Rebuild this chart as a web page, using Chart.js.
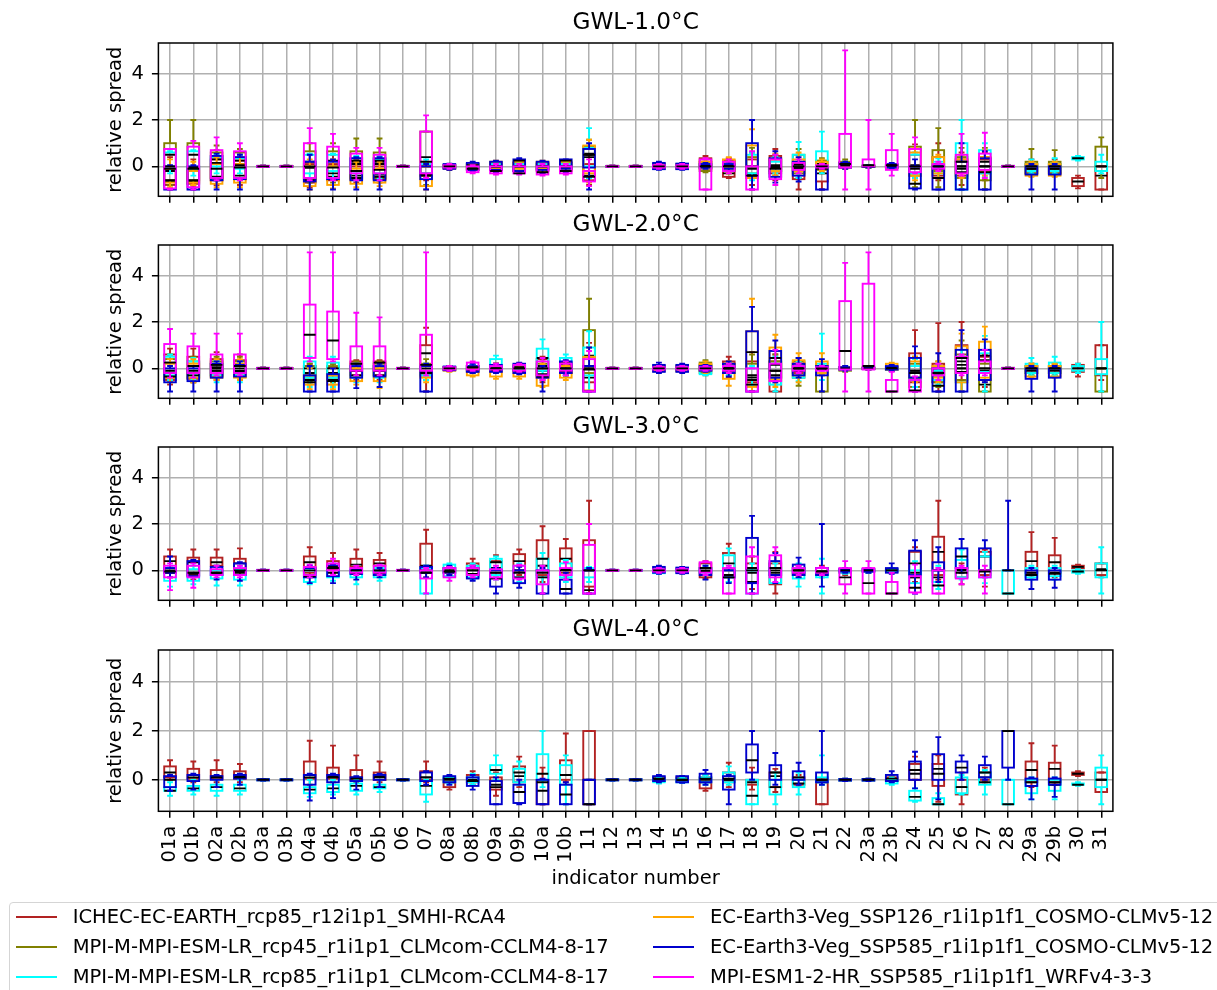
<!DOCTYPE html>
<html>
<head>
<meta charset="utf-8">
<title>GWL relative spread</title>
<script src="https://cdn.jsdelivr.net/npm/chart.js@4.4.1/dist/chart.umd.min.js"></script>
<style>
  body { margin: 0; background: #fff; width: 1217px; height: 990px; overflow: hidden; position: relative; font-family: "DejaVu Sans", sans-serif; }
  canvas { position: absolute; left: 0; }
  #legendFrame { position: absolute; left: 9.3px; top: 901.7px; width: 1240px; height: 120px; border: 1px solid #d5d5d5; border-radius: 4px; box-sizing: border-box; }
  .lg-line { position: absolute; height: 2px; }
  .lg-text { position: absolute; font-size: 19.5px; line-height: 24px; color: #000; white-space: nowrap; }
</style>
</head>
<body>
<canvas id="c0" width="1217" height="216" style="top:0px"></canvas>
<canvas id="c1" width="1217" height="216" style="top:202px"></canvas>
<canvas id="c2" width="1217" height="216" style="top:404px"></canvas>
<canvas id="c3" width="1217" height="294" style="top:607px"></canvas>
<div id="legendFrame"></div>
<div id="legend"></div>
<script>
const FONT = "DejaVu Sans";

const indicators = ["01a","01b","02a","02b","03a","03b","04a","04b","05a","05b","06","07","08a","08b","09a","09b","10a","10b","11","12",
  "13","14","15","16","17","18","19","20","21","22","23a","23b","24","25","26","27","28","29a","29b","30","31"];
const models = [
  "ICHEC-EC-EARTH_rcp85_r12i1p1_SMHI-RCA4",
  "MPI-M-MPI-ESM-LR_rcp45_r1i1p1_CLMcom-CCLM4-8-17",
  "MPI-M-MPI-ESM-LR_rcp85_r1i1p1_CLMcom-CCLM4-8-17",
  "EC-Earth3-Veg_SSP126_r1i1p1f1_COSMO-CLMv5-12",
  "EC-Earth3-Veg_SSP585_r1i1p1f1_COSMO-CLMv5-12",
  "MPI-ESM1-2-HR_SSP585_r1i1p1f1_WRFv4-3-3"
];
const colors = ["#b22222", "#808000", "#00ffff", "#ffa500", "#0000cd", "#ff00ff"];
const gwlTitles = ["GWL-1.0°C", "GWL-2.0°C", "GWL-3.0°C", "GWL-4.0°C"];
const yTicks = [0, 2, 4];

// each box: [whisker low, q1, median, q3, whisker high], null = no box
const flat = [-0.03, -0.02, 0, 0.02, 0.03];

// ---- GWL 1.0
const g1Red = [
  [-0.95,-0.8,-0.65,-0.1,0.4], [-0.9,-0.75,-0.65,-0.1,0.3], [-0.8,-0.6,-0.45,0.3,0.7], [-0.8,-0.55,-0.4,0.25,0.6], flat,
  flat, [-0.9,-0.7,-0.5,0.1,0.5], [-0.8,-0.6,-0.45,0.1,0.5], [-0.7,-0.55,-0.4,0.0,0.3], [-0.7,-0.55,-0.35,0.0,0.3],
  flat, [-0.6,-0.4,-0.3,0.0,0.2], [-0.15,-0.1,0,0.05,0.1], [-0.2,-0.15,-0.05,0.1,0.15], [-0.25,-0.15,-0.05,0.1,0.2],
  [-0.3,-0.2,-0.05,0.15,0.25], [-0.3,-0.2,-0.1,0.1,0.2], [-0.3,-0.2,-0.05,0.15,0.25], [-0.8,-0.6,-0.4,0.1,0.5], flat,
  flat, [-0.12,-0.1,0,0.1,0.12], [-0.12,-0.1,0,0.1,0.12], [-0.2,-0.1,0.1,0.35,0.45], [-0.5,-0.45,-0.3,0.25,0.35],
  [-0.8,-0.5,-0.35,0.3,0.6], [-0.6,-0.3,0.05,0.45,0.75], [-1,-0.55,-0.1,0.2,0.5], [-1,-0.65,-0.3,0.0,0.2], [-0.1,-0.05,0.05,0.15,0.2],
  [-0.05,-0.02,0,0.03,0.05], [-0.1,-0.05,0,0.05,0.1], [-0.5,-0.3,0.0,0.5,0.95], [-0.6,-0.4,0.0,0.4,1.0], [-0.8,-0.4,-0.1,0.3,0.6],
  [-0.6,-0.3,0.0,0.3,0.6], flat, [-0.4,-0.3,-0.1,0.1,0.3], [-0.4,-0.3,-0.1,0.1,0.3], [-0.95,-0.85,-0.65,-0.5,-0.4],
  [-1,-1,-0.4,0.0,0.0]
];
const g1Olive = [
  [-0.8,-0.6,-0.2,1.0,2.0], [-0.8,-0.6,-0.2,1.0,2.0], [-0.6,-0.5,0.1,0.6,0.9], [-0.6,-0.5,0.1,0.6,0.75], flat,
  flat, [-0.7,-0.55,-0.05,0.65,1.0], [-0.7,-0.5,0.0,0.65,1.0], [-0.6,-0.5,0.2,0.65,1.2], [-0.6,-0.5,0.2,0.6,1.2],
  flat, [-0.8,-0.4,0.4,1.5,1.5], [-0.1,-0.05,0,0.05,0.1], [-0.15,-0.1,0,0.1,0.15], [-0.2,-0.1,0.0,0.15,0.2],
  [-0.2,-0.1,0.0,0.15,0.25], [-0.2,-0.1,0.0,0.15,0.2], [-0.2,-0.1,0.0,0.15,0.25], [-0.5,-0.2,0.5,0.85,1.15], flat,
  flat, [-0.1,-0.08,0,0.08,0.1], [-0.1,-0.08,0,0.08,0.1], [-0.25,-0.2,0.0,0.2,0.3], [-0.3,-0.2,-0.15,0.2,0.3],
  [-0.5,-0.3,-0.1,0.4,0.8], [-0.4,-0.2,0.0,0.3,0.5], [-0.5,-0.3,0.0,0.5,0.75], [-0.3,-0.15,0.1,0.25,0.35], [-0.1,0.0,0.1,0.2,0.3],
  [-0.05,-0.02,0,0.03,0.05], [-0.1,-0.05,0,0.05,0.1], [-0.9,-0.4,0.05,0.85,2.0], [-0.9,-0.2,0.1,0.7,1.65], [-1,-0.5,0.0,0.4,0.8],
  [-1,-0.6,-0.2,0.4,0.8], flat, [-0.4,-0.3,0.0,0.2,0.75], [-0.4,-0.3,0.0,0.2,0.7], null,
  [-0.5,-0.2,0.0,0.85,1.25]
];
const g1Cyan = [
  [-0.3,0.0,0.5,0.6,0.65], [-0.4,-0.1,0.5,0.65,0.7], [-0.3,0.0,0.3,0.4,0.5], [-0.3,-0.1,0.25,0.35,0.5], flat,
  flat, [-0.6,-0.3,0.2,0.5,0.55], [-0.5,-0.2,0.25,0.5,0.55], [-0.5,-0.3,0.1,0.35,0.45], [-0.5,-0.3,0.1,0.3,0.45],
  flat, [-0.5,-0.3,0.0,0.1,0.3], [-0.1,-0.05,0,0.05,0.1], [-0.15,-0.1,0,0.1,0.15], [-0.2,-0.1,0.0,0.1,0.15],
  [-0.2,-0.1,0.0,0.1,0.2], [-0.2,-0.1,0.0,0.1,0.15], [-0.2,-0.1,0.0,0.1,0.2], [-0.5,0.0,0.55,0.8,1.65], flat,
  flat, [-0.12,-0.1,-0.05,0.05,0.1], [-0.1,-0.08,0,0.08,0.1], [-0.1,-0.05,0,0.1,0.2], [-0.2,-0.1,0,0.1,0.2],
  [-0.6,-0.3,0.0,0.5,0.6], [-0.3,-0.2,-0.05,0.2,0.4], [-0.5,-0.2,0.1,0.5,1.05], [-0.3,-0.1,0.1,0.65,1.5], [-0.1,0,0.1,0.15,0.2],
  [-0.05,-0.02,0,0.03,0.05], [-0.1,-0.05,0,0.05,0.1], [-0.5,-0.3,0.0,0.5,0.6], [-0.5,-0.3,-0.1,0.2,0.35], [-1,-1,0.0,1.0,2.0],
  [-0.45,-0.3,0.2,0.7,1.0], flat, [-0.3,-0.2,0.0,0.1,0.3], [-0.3,-0.2,0.0,0.1,0.35], [0.25,0.3,0.35,0.4,0.45],
  [-0.3,-0.2,0.0,0.2,0.5]
];
const g1Orange = [
  [-0.9,-0.7,-0.6,-0.1,0.3], [-0.8,-0.7,-0.6,-0.2,0.2], [-0.9,-0.75,-0.5,0.1,0.4], [-0.9,-0.7,-0.5,0.1,0.4], flat,
  flat, [-1,-0.85,-0.6,0.0,0.3], [-0.95,-0.8,-0.55,0.0,0.3], [-0.9,-0.75,-0.5,-0.1,0.2], [-0.85,-0.7,-0.45,-0.1,0.2],
  flat, [-1,-0.85,-0.4,0.0,0.1], [-0.1,-0.05,0,0.05,0.1], [-0.15,-0.1,0,0.1,0.15], [-0.2,-0.1,0.0,0.2,0.25],
  [-0.2,-0.1,0.0,0.2,0.25], [-0.2,-0.1,0.0,0.2,0.25], [-0.2,-0.1,0.0,0.2,0.25], [-0.7,-0.3,0.4,0.9,1.15], flat,
  flat, [-0.1,-0.08,0,0.08,0.1], [-0.1,-0.08,0,0.08,0.1], [-0.1,-0.05,0.05,0.2,0.3], [-0.3,-0.1,0.05,0.3,0.4],
  [-1,-0.5,0.0,0.9,1.6], [-0.4,-0.2,0.0,0.3,0.55], [-0.3,-0.2,0.0,0.3,0.6], [-0.2,-0.1,0.0,0.2,0.3], [-0.1,0,0.05,0.15,0.2],
  [-0.05,-0.02,0,0.03,0.05], [-0.1,-0.05,0,0.05,0.1], [-0.6,-0.4,-0.1,0.6,0.8], [-0.5,-0.3,0.0,0.4,0.5], [-0.5,-0.3,0.0,0.3,0.5],
  [-0.4,-0.2,0.0,0.4,0.7], flat, [-0.45,-0.4,-0.1,0.1,0.2], [-0.45,-0.4,-0.1,0.1,0.2], null,
  null
];
const g1Blue = [
  [-1,-1,0.0,0.0,0.05], [-1,-1,-0.05,0.0,0.05], [-1,-0.6,0.15,0.45,0.55], [-1,-0.55,0.05,0.4,0.5], flat,
  flat, [-1,-0.65,-0.05,0.2,0.5], [-1,-0.55,-0.3,0.2,0.3], [-1,-0.6,0.25,0.35,0.4], [-1,-0.6,0.25,0.35,0.4],
  flat, [-1,-0.55,-0.35,0.0,0.1], [-0.15,-0.1,0.0,0.1,0.12], [-0.2,-0.15,0.05,0.15,0.2], [-0.25,-0.15,0.0,0.2,0.25],
  [-0.3,-0.2,0.25,0.3,0.35], [-0.3,-0.15,0.0,0.2,0.25], [-0.25,-0.1,0.25,0.3,0.3], [-1,-0.05,0.5,0.75,1.0], flat,
  flat, [-0.15,-0.12,0,0.15,0.2], [-0.15,-0.12,0,0.12,0.15], [-0.1,-0.05,0.0,0.1,0.15], [-0.2,-0.1,0.0,0.1,0.2],
  [-1,-0.4,-0.4,1.0,2.0], [-0.7,-0.45,-0.05,0.35,0.65], [-0.65,-0.4,-0.05,0.2,0.4], [-1,-1,-0.1,0.0,0.1], [-0.1,-0.05,0.05,0.15,0.2],
  [-0.05,-0.02,0,0.03,0.05], [-0.1,-0.05,0.05,0.1,0.15], [-1,-0.95,-0.75,0.0,0.3], [-1,-1,-0.5,0.0,0.1], [-1,-1,-0.25,0.2,1.0],
  [-1,-1,-0.25,0.35,0.65], flat, [-1,-0.35,0.0,0.0,0.1], [-1,-0.35,0.0,0.0,0.1], null,
  null
];
const g1Magenta = [
  [-1,-0.95,-0.1,0.75,0.75], [-1,-0.9,-0.1,0.85,1.1], [-0.6,-0.5,-0.1,0.7,1.25], [-0.6,-0.5,-0.05,0.65,1.0], flat,
  flat, [-0.6,-0.5,0.0,1.0,1.65], [-0.6,-0.5,-0.05,0.85,1.4], [-0.6,-0.3,-0.2,0.55,0.8], [-0.6,-0.3,-0.15,0.5,0.8],
  flat, [-0.5,-0.3,0.2,1.5,2.2], [-0.1,-0.05,0,0.05,0.1], [-0.3,-0.25,-0.1,0.0,0.05], [-0.35,-0.3,-0.2,0.0,0.1],
  [-0.35,-0.3,-0.3,0.0,0.1], [-0.4,-0.35,-0.25,0.0,0.1], [-0.35,-0.3,-0.2,0.0,0.1], [-0.85,-0.65,-0.45,-0.2,0.3], flat,
  flat, [-0.1,-0.05,0,0.05,0.1], [-0.1,-0.05,0,0.05,0.1], [-1,-1,0.0,0.3,0.35], [-0.3,-0.2,0.0,0.2,0.3],
  [-1,-1,-0.4,0.0,0.65], [-0.8,-0.55,-0.1,0.3,0.5], [-0.3,-0.15,0.0,0.15,0.3], [-0.1,-0.05,0.0,0.05,0.1], [-1,-0.05,0.1,1.4,5.0],
  [-1,0.0,0.05,0.3,2.0], [-0.4,-0.15,0.05,0.7,1.4], [-0.3,-0.25,0.0,0.75,1.25], [-0.2,-0.1,0.0,0.1,0.2], [-0.4,-0.3,0.2,0.5,1.4],
  [-0.5,-0.15,0.0,0.55,1.45], flat, null, null, null,
  null
];

// ---- GWL 2.0
const g2Red = [
  [-0.7,-0.5,-0.2,0.6,0.85], [-0.6,-0.45,0.1,0.5,0.85], [-0.5,-0.35,0.15,0.4,0.7], [-0.5,-0.35,0.1,0.35,0.6], flat,
  flat, [-0.7,-0.5,-0.3,0.1,0.2], [-0.7,-0.5,-0.3,0.05,0.2], [-0.5,-0.3,0.2,0.3,0.35], [-0.5,-0.3,0.25,0.3,0.35],
  flat, [-1,-0.3,0.65,1.0,1.75], [-0.1,-0.05,0,0.05,0.1], [-0.2,-0.15,0,0.1,0.15], [-0.2,-0.1,0.0,0.1,0.2],
  [-0.2,-0.1,0.0,0.1,0.2], [-0.6,-0.4,0.1,0.4,0.5], [-0.3,-0.2,0.0,0.25,0.3], [-1,-0.6,-0.4,0.5,1.1], flat,
  flat, [-0.15,-0.1,0,0.1,0.15], [-0.15,-0.1,0,0.1,0.15], [-0.2,-0.1,0.0,0.15,0.25], [-0.4,-0.2,0.0,0.3,0.5],
  [-1,-0.6,-0.3,0.3,0.7], [-1,-1,-0.3,0.3,0.6], [-0.3,-0.2,0,0.2,0.3], [-0.3,-0.2,0,0.1,0.2], [-0.1,-0.05,0,0.05,0.1],
  [-0.05,-0.02,0,0.03,0.05], [-0.1,-0.05,0,0.05,0.1], [-1,-0.6,-0.1,0.65,1.65], [-1,-0.6,-0.1,0.2,1.95], [-0.5,-0.2,0.3,1.0,2.0],
  [-0.8,-0.5,-0.1,0.5,0.8], flat, [-0.3,-0.2,0,0.1,0.2], [-0.3,-0.2,0,0.1,0.2], [-0.35,-0.15,0,0.15,0.2],
  [-0.5,-0.3,0.0,1.0,1.0]
];
const g2Olive = [
  [-0.6,-0.4,-0.1,0.4,0.6], [-0.6,-0.4,-0.1,0.3,0.5], [-0.4,-0.3,0.0,0.3,0.5], [-0.4,-0.3,0.0,0.3,0.5], flat,
  flat, [-0.6,-0.4,-0.2,0.1,0.2], [-0.6,-0.4,-0.2,0.1,0.2], [-0.4,-0.3,0.0,0.2,0.3], [-0.4,-0.3,0.0,0.2,0.3],
  flat, [-0.5,-0.3,0.0,0.2,0.4], [-0.1,-0.05,0,0.05,0.1], [-0.2,-0.1,0,0.1,0.15], [-0.2,-0.1,0,0.1,0.2],
  [-0.2,-0.1,0,0.1,0.2], [-0.5,-0.3,-0.1,0.2,0.3], [-0.3,-0.2,0,0.2,0.3], [-1,-0.2,0.55,1.65,3.0], flat,
  flat, [-0.12,-0.1,0,0.1,0.12], [-0.12,-0.1,0,0.1,0.12], [-0.3,-0.2,0.0,0.25,0.35], [-0.3,-0.2,0.0,0.2,0.3],
  [-1,-0.7,-0.4,0.2,0.6], [-0.7,-0.4,-0.1,0.3,0.6], [-0.75,-0.4,-0.1,0.3,0.45], [-1,-1,-0.05,0.0,0.1], [-0.15,-0.1,-0.05,0.05,0.1],
  [-0.05,-0.02,0,0.03,0.05], [-0.1,-0.05,0,0.05,0.1], [-1,-0.8,-0.4,0.2,0.5], [-0.8,-0.6,-0.3,0.0,0.3], [-1,-0.5,0.0,0.6,1.2],
  [-1,-1,-0.7,0.2,0.6], flat, [-0.3,-0.2,0,0.1,0.2], [-0.3,-0.2,0,0.1,0.2], null,
  [-1,-1,0.0,0.0,0.0]
];
const g2Cyan = [
  [-0.5,-0.3,0.25,0.5,0.6], [-0.5,-0.3,0.1,0.3,0.45], [-0.6,-0.3,-0.1,0.2,0.3], [-0.6,-0.3,-0.15,0.15,0.3], flat,
  flat, [-0.8,-0.4,0.0,0.3,0.5], [-0.8,-0.4,0.0,0.25,0.5], [-0.6,-0.4,-0.1,0.1,0.2], [-0.6,-0.4,-0.1,0.1,0.2],
  flat, [-0.5,-0.3,-0.1,0.1,0.2], [-0.1,-0.05,0,0.05,0.1], [-0.2,-0.1,0,0.1,0.15], [-0.2,-0.1,0.15,0.4,0.55],
  [-0.2,-0.1,0.05,0.15,0.2], [-0.3,-0.1,0.45,0.85,1.25], [-0.3,-0.1,0.15,0.45,0.6], [-1,-0.3,0.1,0.9,1.6], flat,
  flat, [-0.12,-0.1,0,0.1,0.12], [-0.12,-0.1,0,0.1,0.12], [-0.3,-0.25,0,0.1,0.2], [-0.3,-0.2,0,0.1,0.2],
  [-1,-0.5,-0.3,0.0,0.1], [-1,-0.7,-0.3,0.2,0.5], [-0.55,-0.4,-0.1,0.1,0.3], [-0.5,-0.2,0.0,0.2,1.5], [-0.1,-0.05,0,0.05,0.1],
  [-0.05,-0.02,0,0.03,0.05], [-0.1,-0.05,0,0.05,0.1], [-0.8,-0.5,-0.2,0.1,0.4], [-0.7,-0.5,-0.3,-0.1,0.1], [-1,-0.6,0.0,0.5,0.8],
  [-1,-0.15,0.35,0.65,1.4], flat, [-0.3,-0.2,0.0,0.2,0.45], [-0.3,-0.2,0.0,0.25,0.5], [-0.2,-0.1,0,0.1,0.2],
  [-1,-0.25,0.0,0.4,2.0]
];
const g2Orange = [
  [-0.6,-0.4,-0.2,0.2,0.4], [-0.6,-0.4,-0.2,0.2,0.4], [-0.5,-0.4,-0.1,0.2,0.4], [-0.5,-0.4,-0.1,0.2,0.4], flat,
  flat, [-0.9,-0.7,-0.5,-0.3,0.0], [-0.9,-0.7,-0.5,-0.3,0.0], [-0.7,-0.55,-0.3,0.0,0.2], [-0.85,-0.55,-0.3,0.0,0.2],
  flat, [-0.6,-0.4,-0.2,0.1,0.2], [-0.15,-0.1,-0.05,0.05,0.1], [-0.35,-0.3,-0.1,0.0,0.1], [-0.45,-0.35,-0.1,0.1,0.2],
  [-0.45,-0.35,-0.15,0.05,0.15], [-0.8,-0.75,-0.25,0.0,0.2], [-0.5,-0.4,-0.1,0.1,0.2], [-1,-0.95,0.0,0.5,0.9], flat,
  flat, [-0.12,-0.1,0,0.1,0.15], [-0.15,-0.12,0,0.12,0.15], [-0.2,-0.1,0.05,0.2,0.3], [-0.75,-0.45,-0.1,0.2,0.3],
  [-1,-0.8,-0.5,1.6,3.0], [-0.8,-0.5,0.15,0.9,1.45], [-0.6,-0.3,0.0,0.35,0.65], [-0.3,-0.2,0.0,0.3,0.65], [-0.1,-0.05,0,0.05,0.1],
  [-0.05,-0.02,0,0.03,0.05], [-0.1,-0.05,0.05,0.2,0.25], [-0.6,-0.4,-0.1,0.3,0.5], [-0.6,-0.4,-0.2,0.1,0.3], [-1,-0.6,0.15,0.95,1.5],
  [-0.6,-0.4,0.55,1.15,1.8], flat, [-0.4,-0.35,-0.1,0.1,0.2], [-0.4,-0.35,-0.1,0.1,0.2], null,
  null
];
const g2Blue = [
  [-1,-0.6,-0.35,0.0,0.1], [-1,-0.55,-0.3,0.0,0.1], [-1,-0.4,0.05,0.2,0.3], [-1,-0.35,-0.2,0.15,0.3], flat,
  flat, [-1,-1,-0.6,-0.3,0.1], [-1,-1,-0.55,-0.25,0.0], [-0.85,-0.4,-0.1,0.1,0.2], [-0.8,-0.35,-0.1,0.1,0.2],
  flat, [-1,-1,-0.2,0.1,0.2], [-0.1,-0.08,0,0.08,0.1], [-0.2,-0.15,-0.05,0.1,0.2], [-0.2,-0.15,0.0,0.15,0.2],
  [-0.25,-0.2,0.05,0.2,0.25], [-1,-0.4,-0.35,0.0,0.1], [-0.3,-0.2,-0.1,0.3,0.35], [-1,-1,0.0,0.1,0.9], flat,
  flat, [-0.2,-0.15,0.0,0.15,0.25], [-0.2,-0.15,0.0,0.15,0.2], [-0.15,-0.1,0,0.1,0.15], [-0.35,-0.2,0.0,0.2,0.3],
  [-1,-1,0.7,1.6,2.65], [-0.6,-0.4,0.45,0.75,1.2], [-0.4,-0.3,0.0,0.2,0.45], [-1,-0.3,0.0,0.1,0.4], [-0.1,-0.05,0,0.05,0.1],
  [-0.05,-0.02,0,0.03,0.05], [-0.1,-0.05,0,0.1,0.15], [-1,-0.4,-0.2,0.45,0.95], [-1,-1,-0.75,0.0,0.65], [-1,-1,-0.15,0.8,1.65],
  [-0.6,-0.5,0.0,0.8,1.25], flat, [-1,-0.45,0.0,0.0,0.1], [-1,-0.4,0.0,0.0,0.1], null,
  null
];
const g2Magenta = [
  [-0.4,-0.2,0.25,1.05,1.7], [-0.4,-0.2,0.1,0.95,1.5], [-0.3,-0.2,0.15,0.6,1.5], [-0.3,-0.2,0.1,0.6,1.5], flat,
  flat, [0.3,0.45,1.45,2.75,5.0], [0.3,0.4,1.2,2.45,5.0], [-0.3,-0.1,0.2,0.95,2.4], [-0.3,-0.1,0.25,0.95,2.2],
  flat, [-0.3,-0.1,0.15,1.45,5.0], [-0.1,-0.05,0,0.05,0.1], [-0.1,-0.05,0.05,0.25,0.3], [-0.1,-0.05,0.0,0.1,0.2],
  [-0.15,-0.1,0.0,0.15,0.2], [-0.5,-0.3,0.0,0.3,0.45], [-0.3,-0.1,0.0,0.2,0.3], [-1,-1,-0.05,0.4,0.75], flat,
  flat, [-0.1,-0.05,0,0.05,0.1], [-0.1,-0.05,0,0.05,0.1], [-0.1,-0.05,0,0.05,0.1], [-0.2,-0.1,0.0,0.1,0.2],
  [-1,-1,-0.7,0.0,0.0], [-0.55,-0.55,-0.1,0.2,0.8], [-0.2,-0.1,0,0.1,0.2], [-0.1,-0.1,0.0,0.05,0.1], [-1,-0.05,0.75,2.9,4.55],
  [-1,-0.05,0.1,3.65,5.0], [-1,-1,-1,-0.5,-0.15], [-1,-1,-0.95,-0.5,-0.35], [-0.5,-0.3,-0.2,0.0,0.2], [-0.3,-0.2,0.45,0.5,0.6],
  [-0.3,-0.2,0.0,0.3,0.8], flat, null, null, null,
  null
];

// ---- GWL 3.0
const g3Red = [
  [-0.3,-0.1,0.4,0.6,0.9], [-0.4,-0.2,0.35,0.55,0.9], [0.0,0.2,0.35,0.55,0.9], [-0.2,0.0,0.3,0.5,0.95], flat,
  flat, [-0.3,-0.1,0.35,0.6,1.0], [-0.1,0.05,0.2,0.4,0.75], [0.0,0.15,0.25,0.5,0.9], [0.1,0.2,0.3,0.45,0.75],
  flat, [-0.3,-0.1,0.2,1.15,1.75], [-0.2,-0.1,0.0,0.1,0.15], [-0.3,-0.2,0.1,0.3,0.5], [-0.3,-0.1,0.1,0.4,0.65],
  [-0.2,0.0,0.4,0.7,0.9], [-0.5,-0.2,0.2,1.3,1.9], [-0.3,-0.1,0.5,0.95,1.35], [-1,-0.7,0.0,1.3,3.0], flat,
  flat, [-0.1,-0.08,0,0.08,0.1], [-0.1,-0.08,0,0.08,0.1], [-0.35,-0.3,-0.2,0.3,0.4], [-0.5,-0.3,0.0,0.75,1.15],
  [-0.8,-0.5,-0.1,0.3,0.6], [-1,-0.6,-0.1,0.3,0.8], [-0.3,-0.2,0.0,0.1,0.2], [-0.3,-0.2,-0.05,0.1,0.2], [-0.2,-0.1,0.0,0.05,0.1],
  [-0.1,-0.05,0,0.05,0.1], [-0.1,-0.05,0,0.05,0.1], [-0.5,-0.3,-0.1,0.8,1.0], [-0.4,-0.2,0.8,1.45,3.0], [-0.6,-0.3,0.0,0.1,0.3],
  [-0.7,-0.2,0.6,0.8,0.9], null, [-0.3,-0.1,0.4,0.8,1.65], [-0.3,-0.1,0.35,0.65,1.4], [0.05,0.1,0.15,0.2,0.25],
  [-0.3,-0.2,0.05,0.3,0.3]
];
const g3Cyan = [
  [-0.7,-0.45,-0.1,0.1,0.2], [-0.6,-0.45,-0.15,0.05,0.2], [-0.65,-0.35,-0.15,0.0,0.15], [-0.65,-0.4,-0.1,0.05,0.2], flat,
  flat, [-0.6,-0.5,-0.2,0.0,0.2], [-0.45,-0.3,-0.1,0.1,0.3], [-0.6,-0.3,-0.15,0.0,0.1], [-0.45,-0.3,-0.1,0.1,0.2],
  flat, [-1,-1,-0.1,0.1,0.2], [-0.3,-0.25,0.0,0.25,0.3], [-0.4,-0.3,0.0,0.2,0.3], [-0.4,-0.2,0.35,0.5,0.6],
  [-0.5,-0.3,0.0,0.2,0.3], [-0.6,-0.3,0.5,0.5,0.75], [-0.5,-0.3,0.05,0.3,0.45], [-0.5,-0.3,0.0,0.1,0.15], flat,
  flat, [-0.15,-0.12,-0.05,0.05,0.1], [-0.12,-0.1,0,0.08,0.1], [-0.2,-0.1,0.0,0.1,0.2], [-0.5,-0.3,0.3,0.65,0.95],
  [-1,-1,-0.5,0.0,0.3], [-0.55,-0.55,-0.2,0.1,0.3], [-0.7,-0.35,-0.1,0.1,0.3], [-1,-0.3,-0.1,0.1,0.5], [-0.15,-0.1,0,0.05,0.1],
  [-0.1,-0.05,0,0.05,0.1], [-0.1,-0.05,0,0.05,0.1], [-1,-0.55,-0.3,0.0,0.4], [-0.8,-0.5,-0.3,0.0,0.2], [-0.4,-0.3,0.05,0.45,0.9],
  [-0.55,-0.3,0.0,0.6,0.8], [-1,-1,-1,0.0,0.0], [-0.4,-0.3,-0.1,0.1,0.2], [-0.4,-0.25,-0.1,0.1,0.2], [-0.15,-0.1,-0.05,0.0,0.05],
  [-1,-0.3,0.0,0.3,1.0]
];
const g3Blue = [
  [-0.3,-0.1,0.0,0.1,0.6], [-0.3,-0.25,-0.1,0.4,0.45], [-0.4,-0.2,-0.1,0.15,0.2], [-0.45,-0.2,-0.05,0.3,0.35], flat,
  flat, [-0.55,-0.3,-0.25,0.1,0.2], [-0.55,-0.25,0.15,0.2,0.25], [-0.4,-0.15,-0.1,0.05,0.1], [-0.3,-0.2,-0.1,0.0,0.1],
  flat, [-0.3,-0.1,0.0,0.15,0.2], [-0.2,-0.1,-0.05,0.1,0.2], [-0.45,-0.35,-0.15,0.1,0.2], [-1,-0.7,-0.35,0.0,0.1],
  [-0.75,-0.55,-0.3,0.0,0.15], [-1,-1,-0.3,0.0,0.1], [-1,-1,-0.8,-0.4,-0.1], [-1,-1,-0.85,0.0,0.1], flat,
  flat, [-0.15,-0.1,0.0,0.15,0.2], [-0.15,-0.12,0,0.12,0.15], [-0.4,-0.2,-0.05,0.1,0.2], [-0.55,-0.3,-0.2,0.0,0.1],
  [-1,-0.55,0.1,1.4,2.35], [-0.55,-0.2,0.0,0.4,0.75], [-0.3,-0.2,0.0,0.25,0.55], [-0.7,-0.2,-0.05,0.1,2.0], [-0.1,-0.05,0,0.05,0.1],
  [-0.1,-0.05,0,0.05,0.1], [-0.15,-0.1,0.0,0.1,0.3], [-1,-0.2,0.3,0.85,1.3], [-0.5,0.0,0.0,0.35,1.0], [-0.1,0.1,0.6,0.95,1.35],
  [-0.3,0.0,0.0,0.95,1.3], [0.0,0.0,0.0,0.0,3.0], [-0.8,-0.4,-0.2,0.0,0.1], [-0.75,-0.4,-0.15,0.0,0.1], null,
  null
];
const g3Magenta = [
  [-0.85,-0.3,-0.05,0.2,0.3], [-0.75,-0.3,-0.1,0.2,0.3], [-0.3,-0.2,-0.1,0.05,0.2], [-0.3,-0.2,0.0,0.1,0.2], flat,
  flat, [-0.3,-0.2,0.0,0.15,0.25], [-0.2,0.0,0.1,0.3,0.5], [-0.2,-0.1,0.0,0.1,0.2], [-0.2,-0.1,0.0,0.2,0.25],
  flat, [-1,-0.35,-0.1,0.0,0.1], [-0.45,-0.3,-0.05,0.1,0.15], [-0.3,-0.2,0.0,0.1,0.2], [-0.4,-0.3,-0.1,0.05,0.2],
  [-0.4,-0.35,-0.1,0.2,0.25], [-1,-0.6,-0.1,0.0,0.2], [-0.4,-0.2,0.0,0.1,0.35], [-1,-1,0.0,1.1,2.0], flat,
  flat, [-0.1,-0.05,0,0.05,0.1], [-0.1,-0.05,0,0.05,0.1], [-0.2,-0.1,0.1,0.35,0.4], [-1,-1,-0.3,0.1,0.2],
  [-1,-1,0.0,0.6,1.0], [-0.5,-0.3,0.1,0.65,1.0], [-0.2,-0.1,0.0,0.1,0.2], [-0.2,-0.1,-0.05,0.1,0.15], [-1,-0.6,-0.3,0.1,0.4],
  [-1,-1,-0.55,0.1,0.4], [-1,-1,-1,-0.5,-0.1], [-1,-0.95,-0.75,-0.25,0.25], [-1,-1,-0.65,0.0,0.1], [-0.6,-0.35,-0.1,0.1,0.2],
  [-1,-0.3,-0.05,0.0,0.2], null, null, null, null,
  null
];

// ---- GWL 4.0
const g4Red = [
  [0.0,0.1,0.3,0.55,0.8], [-0.1,0.05,0.2,0.45,0.75], [-0.1,0.05,0.15,0.4,0.8], [-0.1,0.05,0.15,0.35,0.65], flat,
  flat, [-0.2,0.05,0.2,0.75,1.6], [-0.1,0.05,0.15,0.5,1.4], [-0.1,0.0,0.1,0.4,1.0], [-0.1,0.0,0.15,0.3,0.75],
  flat, [-0.1,0.0,0.1,0.35,0.75], [-0.4,-0.3,-0.1,0.05,0.1], [-0.2,-0.1,0.0,0.2,0.35], [-0.65,-0.4,-0.2,0.1,0.3],
  [-0.3,-0.1,0.15,0.55,0.95], [-1,-1,-0.45,0.0,0.5], [-0.1,0.0,0.2,0.8,1.9], [-1,-1,0.0,2.0,2.0], flat,
  flat, [-0.1,-0.05,0,0.1,0.15], [-0.1,-0.05,0,0.1,0.15], [-0.45,-0.35,-0.1,0.1,0.2], [-0.3,-0.1,0.0,0.3,0.7],
  [-0.4,-0.2,-0.1,0.0,0.5], [-0.5,-0.3,0.15,0.3,0.45], [-0.3,-0.2,0.0,0.1,0.2], [-1,-1,-0.1,0.0,0.0], [-0.05,-0.03,0,0.03,0.05],
  [-0.05,-0.03,0,0.03,0.05], [-0.1,-0.05,0.0,0.1,0.15], [0.0,0.0,0.25,0.65,0.95], [-0.9,-0.25,0.45,0.65,1.0], [-1,-0.6,-0.3,0.0,0.3],
  [-0.1,0.0,0.1,0.3,0.5], null, [-0.3,-0.1,0.4,0.75,1.5], [-0.2,-0.1,0.45,0.7,1.4], [0.15,0.2,0.25,0.3,0.35],
  [-0.5,-0.5,0.0,0.3,0.3]
];
const g4Cyan = [
  [-0.65,-0.45,-0.45,-0.3,-0.1], [-0.6,-0.45,-0.35,-0.25,0.0], [-0.65,-0.45,-0.3,-0.2,0.0], [-0.6,-0.45,-0.35,-0.2,0.0], flat,
  flat, [-0.7,-0.55,-0.4,-0.3,0.0], [-0.6,-0.5,-0.35,-0.2,0.0], [-0.6,-0.45,-0.25,-0.15,0.0], [-0.5,-0.35,-0.3,-0.2,0.0],
  flat, [-0.9,-0.6,-0.25,-0.05,0.0], [-0.15,-0.1,0.0,0.1,0.15], [-0.2,-0.1,-0.05,0.1,0.25], [0.0,0.25,0.4,0.6,1.0],
  [-0.2,-0.1,0.3,0.45,0.75], [-0.3,0.0,0.25,1.05,2.0], [-1,-0.2,0.2,0.6,1.0], null, flat,
  flat, [-0.15,-0.1,0.0,0.05,0.1], [-0.12,-0.1,0,0.05,0.1], [-0.2,-0.1,0.0,0.1,0.2], [-0.2,-0.1,0.0,0.3,0.55],
  [-1,-1,-0.65,0.0,0.0], [-1,-0.6,-0.3,0.0,0.3], [-0.6,-0.3,-0.15,0.0,0.3], [-0.2,-0.1,0.0,0.1,1.0], [-0.05,-0.03,0,0.03,0.05],
  [-0.05,-0.03,0,0.03,0.05], [-0.2,-0.15,-0.05,0.0,0.1], [-0.9,-0.85,-0.7,-0.45,-0.35], [-1,-1,-1,-0.75,-0.55], [-0.6,-0.55,-0.3,0.1,0.2],
  [-0.6,-0.2,-0.1,0.3,0.4], [-1,-1,-1,0.0,0.0], [-0.8,-0.55,-0.25,0.0,0.1], [-0.8,-0.45,-0.2,0.0,0.1], [-0.25,-0.2,-0.2,-0.15,-0.1],
  [-1,-0.3,0.0,0.5,1.0]
];
const g4Blue = [
  [-0.45,-0.3,0.0,0.15,0.2], [-0.4,-0.05,0.1,0.2,0.25], [-0.3,0.0,0.1,0.15,0.2], [-0.2,0.05,0.1,0.2,0.25], flat,
  flat, [-0.85,-0.2,0.1,0.2,0.25], [-0.75,-0.1,0.1,0.2,0.25], [-0.4,-0.05,0.05,0.1,0.15], [-0.3,0.0,0.1,0.2,0.25],
  flat, [-0.2,-0.05,0.1,0.3,0.35], [-0.2,-0.1,0.05,0.15,0.2], [-0.4,-0.25,-0.05,0.1,0.2], [-1,-1,-0.3,-0.05,0.1],
  [-1,-0.95,-0.5,-0.2,0.0], [-1,-1,-0.1,0.0,0.05], [-1,-1,-0.6,-0.2,-0.1], [-1,-1,-1,0.0,0.0], flat,
  flat, [-0.1,-0.05,0.05,0.15,0.2], [-0.12,-0.1,0.0,0.15,0.15], [-0.2,-0.1,0.05,0.25,0.4], [-1,-0.4,0.05,0.15,0.2],
  [0.0,0.3,0.8,1.45,2.0], [-0.2,0.0,0.3,0.6,1.1], [-0.2,0.0,0.1,0.35,0.7], [-0.2,-0.1,0.0,0.3,2.0], [-0.05,-0.03,0,0.03,0.05],
  [-0.05,-0.03,0,0.03,0.05], [-0.1,-0.05,0.05,0.2,0.35], [-0.35,0.0,0.4,0.75,1.15], [-0.8,0.0,0.25,1.05,1.75], [0.0,0.3,0.5,0.75,1.0],
  [0.0,0.1,0.3,0.6,0.95], [0.0,0.5,2.0,2.0,2.0], [-0.8,-0.25,-0.1,0.05,0.1], [-0.7,-0.2,-0.1,0.05,0.1], null,
  null
];

const panels = [
  [g1Red, g1Olive, g1Cyan, g1Orange, g1Blue, g1Magenta],
  [g2Red, g2Olive, g2Cyan, g2Orange, g2Blue, g2Magenta],
  [g3Red, null, g3Cyan, null, g3Blue, g3Magenta],
  [g4Red, null, g4Cyan, null, g4Blue, null]
];

// draws boxes like matplotlib: whiskers, caps, box, median, model after model
const boxPlugin = {
  id: 'boxes',
  afterDatasetsDraw(chart) {
    const { ctx, chartArea: a, scales: { x, y } } = chart;
    const step = x.getPixelForValue(1) - x.getPixelForValue(0);
    const hw = step * 0.25, cw = step * 0.125;
    ctx.save();
    ctx.beginPath();
    ctx.rect(a.left, a.top, a.right - a.left, a.bottom - a.top);
    ctx.clip();
    ctx.lineWidth = 1.9;
    chart.data.datasets.forEach(ds => {
      ds.stats.forEach((b, i) => {
        if (!b) return;
        const cx = x.getPixelForValue(i);
        const [lo, q1, med, q3, hi] = b.map(v => y.getPixelForValue(v));
        ctx.strokeStyle = ds.borderColor;
        ctx.beginPath();
        ctx.moveTo(cx, q1); ctx.lineTo(cx, lo);
        ctx.moveTo(cx, q3); ctx.lineTo(cx, hi);
        ctx.moveTo(cx - cw, lo); ctx.lineTo(cx + cw, lo);
        ctx.moveTo(cx - cw, hi); ctx.lineTo(cx + cw, hi);
        ctx.stroke();
        ctx.strokeRect(cx - hw, q3, 2 * hw, q1 - q3);
        ctx.strokeStyle = '#000';
        ctx.beginPath();
        ctx.moveTo(cx - hw, med); ctx.lineTo(cx + hw, med);
        ctx.stroke();
      });
    });
    ctx.restore();
  }
};

const framePlugin = {
  id: 'frame',
  afterDraw(chart) {
    const { ctx, chartArea: a } = chart;
    ctx.save();
    ctx.strokeStyle = '#000';
    ctx.lineWidth = 1.5;
    ctx.strokeRect(a.left, a.top, a.right - a.left, a.bottom - a.top);
    ctx.restore();
  }
};

const gridOpts = { color: '#b0b0b0', lineWidth: 1.5, tickColor: '#000', tickWidth: 1.5, tickLength: 6.5 };
const labelFont = { size: 19.5, family: FONT };

panels.forEach((series, idx) => {
  const last = idx === panels.length - 1;
  const canvas = document.getElementById('c' + idx);
  const xAxisH = canvas.height - 43 - 161.3;

  new Chart(canvas, {
    type: 'line',
    data: {
      labels: indicators,
      datasets: series.map((s, m) => s && {
        label: models[m],
        stats: s,
        data: s.map(b => (b ? b[2] : null)),
        borderColor: colors[m],
        showLine: false,
        pointRadius: 0,
        pointHoverRadius: 0
      }).filter(Boolean)
    },
    options: {
      responsive: false,
      animation: false,
      events: [],
      layout: { padding: { left: 100, right: 104.1, top: 0, bottom: 0 } },
      plugins: {
        legend: { display: false },
        tooltip: { enabled: false },
        title: {
          display: true, text: gwlTitles[idx], fullSize: false, color: '#000',
          font: { size: 23.2, weight: 'normal', family: FONT },
          padding: { top: 9.5, bottom: 5.66 }
        }
      },
      scales: {
        x: {
          type: 'category',
          offset: true,
          grid: { ...gridOpts, offset: false },
          border: { display: false },
          ticks: { display: last, autoSkip: false, minRotation: 90, maxRotation: 90, padding: 8, color: '#000', font: labelFont },
          title: { display: last, text: 'indicator number', color: '#000', font: labelFont, padding: { top: 0, bottom: 10.3 } },
          afterFit: s => { s.height = xAxisH; }
        },
        y: {
          type: 'linear',
          min: -1.29,
          max: 5.32,
          afterBuildTicks: s => { s.ticks = yTicks.map(v => ({ value: v })); },
          grid: gridOpts,
          border: { display: false },
          ticks: { padding: 8, color: '#000', font: labelFont },
          title: { display: true, text: 'relative spread', color: '#000', font: labelFont, padding: { top: 4, bottom: 0 } },
          afterFit: s => { s.width = 58.4; }
        }
      }
    },
    plugins: [boxPlugin, framePlugin]
  });
});

// legend, two columns like the figure
const legend = document.getElementById('legend');
const rowY = [917.3, 946.7, 976.5];
models.forEach((name, i) => {
  const col = i < 3 ? 0 : 1;
  const row = i % 3;
  const lineX = col === 0 ? 16 : 653.3;
  const textX = col === 0 ? 72.7 : 710;
  const ln = document.createElement('div');
  ln.className = 'lg-line';
  ln.style.cssText = `left:${lineX}px;top:${rowY[row] - 1}px;width:41px;background:${colors[i]}`;
  legend.appendChild(ln);
  const tx = document.createElement('div');
  tx.className = 'lg-text';
  tx.style.cssText = `left:${textX}px;top:${rowY[row] - 12}px`;
  tx.textContent = name;
  legend.appendChild(tx);
});
</script>
</body>
</html>
